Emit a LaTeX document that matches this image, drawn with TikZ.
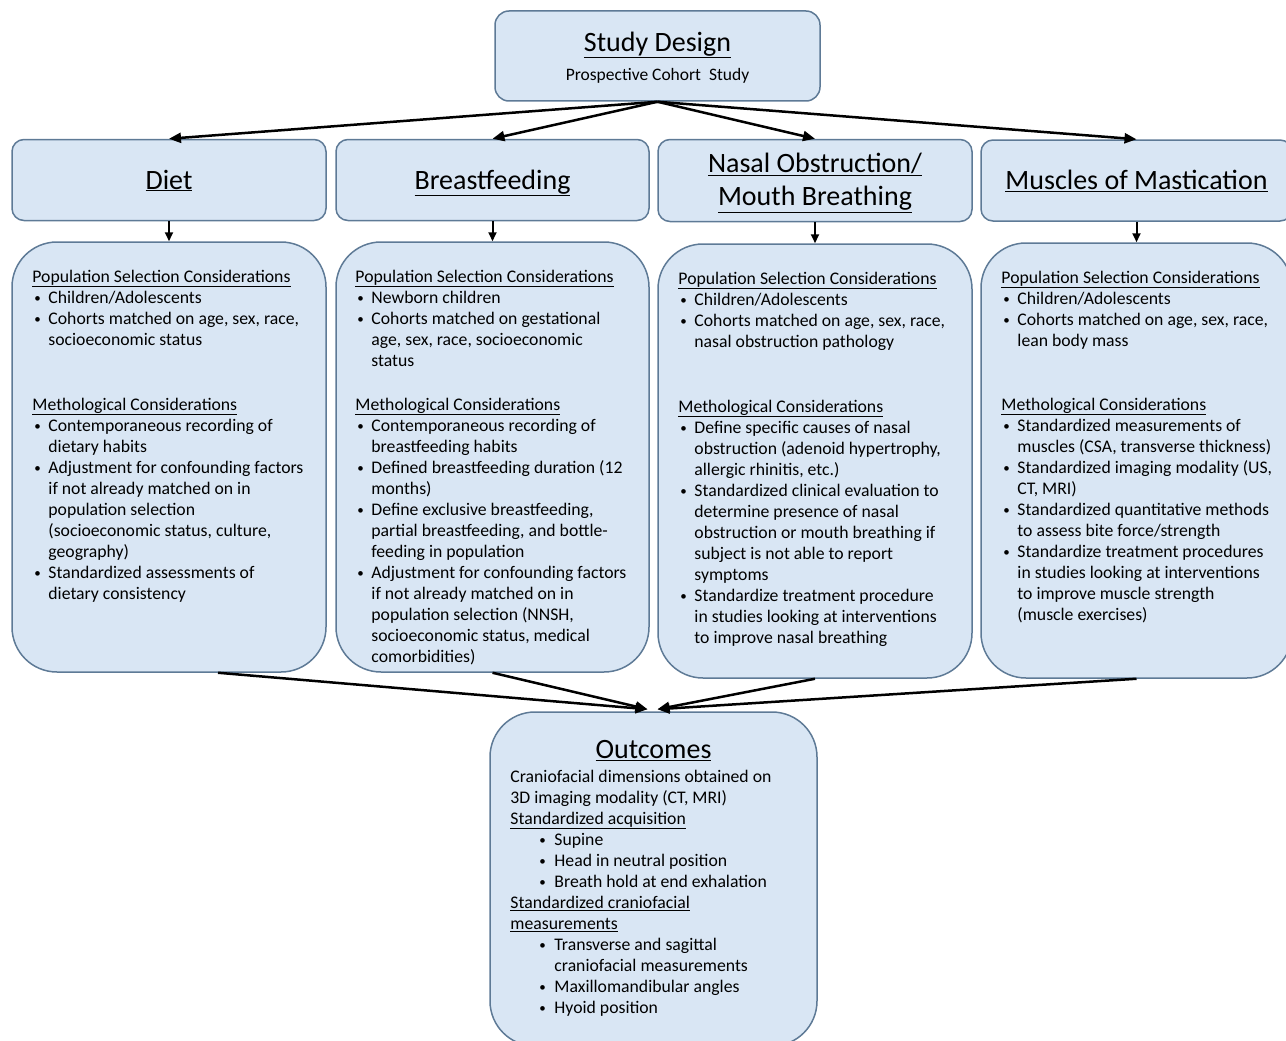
\documentclass[tikz,border=0pt]{standalone}
\usepackage{fontspec}
\setmainfont{Carlito}
\usetikzlibrary{arrows.meta}

\definecolor{boxfill}{RGB}{217,230,244}
\definecolor{boxline}{RGB}{94,122,150}

\newcommand{\dotmark}{\raisebox{1pt}{\fontsize{13}{13}\selectfont\textbullet}}
\newcommand{\sechead}[1]{\par\noindent\underline{#1}\par}
\newcommand{\bul}[1]{\par\hangindent=16pt\hangafter=1\noindent\hspace*{2pt}\makebox[14pt][l]{\dotmark}#1\par}
\newcommand{\subbul}[1]{\par\hangindent=44pt\hangafter=1\noindent\hspace*{29pt}\makebox[15pt][l]{\dotmark}#1\par}

\begin{document}
\begin{tikzpicture}[x=1pt,y=-1pt,
    box/.style={draw=boxline,fill=boxfill,line width=1.5pt,inner sep=0pt},
    topbox/.style={box,rounded corners=14pt},
    hdrbox/.style={box,rounded corners=12pt,minimum height=81pt,align=center,
      text height=24pt,text depth=6pt,font=\fontsize{28}{33}\selectfont},
    colbox/.style={box,rounded corners=45pt},
    coltext/.style={anchor=base west,inner sep=0pt,font=\fontsize{17.7}{21}\selectfont},
    arr/.style={-{Triangle[length=12pt,width=10pt]},line width=2.5pt},
    shortarr/.style={-{Triangle[length=9pt,width=8pt]},line width=2pt}]
  \useasboundingbox (0,0) rectangle (1286,1041);

  \node[topbox,minimum width=325pt,minimum height=90pt] (sd) at (657.5,56) {};
  \node[anchor=base,inner sep=0pt,font=\fontsize{28}{28}\selectfont] (sdhead)
    at ([yshift=-41pt]sd.north) {\underline{Study Design}};
  \node[anchor=base,inner sep=0pt,font=\fontsize{17.5}{17.5}\selectfont] (sdsub)
    at ([yshift=-70pt]sd.north) {Prospective Cohort\ \ Study};

  \node[hdrbox,minimum width=314pt] (diet) at (169,180) {\underline{Diet}};
  \node[hdrbox,minimum width=313pt] (bf) at (492.5,180) {\underline{Breastfeeding}};
  \node[hdrbox,minimum width=314pt,minimum height=82pt] (nasal) at (815,180.5) {};
  \node[anchor=base,inner sep=0pt,font=\fontsize{28}{28}\selectfont] (nasalhead)
    at ([yshift=-34pt]nasal.north) {\underline{Nasal Obstruction/}};
  \node[anchor=base,inner sep=0pt,font=\fontsize{28}{28}\selectfont] (nasalhead2)
    at ([yshift=-67pt]nasal.north) {\underline{Mouth Breathing}};
  \node[hdrbox,minimum width=311pt] (musc) at (1136.5,180.5) {\underline{Muscles of Mastication}};

  \node[colbox,minimum width=314pt,minimum height=430pt] (dietbox) at (169,457) {};
  \node[colbox,minimum width=313pt,minimum height=430pt] (bfbox) at (492.5,457) {};
  \node[colbox,minimum width=314pt,minimum height=434pt] (nasalbox) at (815,461) {};
  \node[colbox,minimum width=311pt,minimum height=435pt] (muscbox) at (1136.5,460.5) {};

  \node[colbox,minimum width=327pt,minimum height=334pt] (outc) at (653.5,879) {};

  \node[coltext] (diettext) at ([xshift=21pt,yshift=-41pt]dietbox.north west) {\parbox[t]{310pt}{%
    \sechead{Population Selection Considerations}
    \bul{Children/Adolescents}
    \bul{Cohorts matched on age, sex, race,\\socioeconomic status}
    \vspace{44pt}
    \sechead{Methological Considerations}
    \bul{Contemporaneous recording of\\dietary habits}
    \bul{Adjustment for confounding factors\\if not already matched on in\\population selection\\(socioeconomic status, culture,\\geography)}
    \bul{Standardized assessments of\\dietary consistency}}};

  \node[coltext] (bftext) at ([xshift=20pt,yshift=-41pt]bfbox.north west) {\parbox[t]{310pt}{%
    \sechead{Population Selection Considerations}
    \bul{Newborn children}
    \bul{Cohorts matched on gestational\\age, sex, race, socioeconomic\\status}
    \vspace{23pt}
    \sechead{Methological Considerations}
    \bul{Contemporaneous recording of\\breastfeeding habits}
    \bul{Defined breastfeeding duration (12\\months)}
    \bul{Define exclusive breastfeeding,\\partial breastfeeding, and bottle-\\feeding in population}
    \bul{Adjustment for confounding factors\\if not already matched on in\\population selection (NNSH,\\socioeconomic status, medical\\comorbidities)}}};

  \node[coltext] (nasaltext) at ([xshift=21pt,yshift=-41pt]nasalbox.north west) {\parbox[t]{310pt}{%
    \sechead{Population Selection Considerations}
    \bul{Children/Adolescents}
    \bul{Cohorts matched on age, sex, race,\\nasal obstruction pathology}
    \vspace{44pt}
    \sechead{Methological Considerations}
    \bul{Define specific causes of nasal\\obstruction (adenoid hypertrophy,\\allergic rhinitis, etc.)}
    \bul{Standardized clinical evaluation to\\determine presence of nasal\\obstruction or mouth breathing if\\subject is not able to report\\symptoms}
    \bul{Standardize treatment procedure\\in studies looking at interventions\\to improve nasal breathing}}};

  \node[coltext] (musctext) at ([xshift=21pt,yshift=-41pt]muscbox.north west) {\parbox[t]{310pt}{%
    \sechead{Population Selection Considerations}
    \bul{Children/Adolescents}
    \bul{Cohorts matched on age, sex, race,\\lean body mass}
    \vspace{43pt}
    \sechead{Methological Considerations}
    \bul{Standardized measurements of\\muscles (CSA, transverse thickness)}
    \bul{Standardized imaging modality (US,\\CT, MRI)}
    \bul{Standardized quantitative methods\\to assess bite force/strength}
    \bul{Standardize treatment procedures\\in studies looking at interventions\\to improve muscle strength\\(muscle exercises)}}};

  \node[anchor=base,inner sep=0pt,font=\fontsize{28}{28}\selectfont] (outhead)
    at ([yshift=-47pt]outc.north) {\underline{Outcomes}};
  \node[coltext] (outtext) at ([xshift=21pt,yshift=-71pt]outc.north west) {\parbox[t]{310pt}{%
    \noindent Craniofacial dimensions obtained on\\3D imaging modality (CT, MRI)
    \sechead{Standardized acquisition}
    \subbul{Supine}
    \subbul{Head in neutral position}
    \subbul{Breath hold at end exhalation}
    \par\noindent\underline{Standardized craniofacial}\\\underline{measurements}\par
    \subbul{Transverse and sagittal\\craniofacial measurements}
    \subbul{Maxillomandibular angles}
    \subbul{Hyoid position}}};

  \draw[arr] (sd.south) -- (diet.north);
  \draw[arr] (sd.south) -- (bf.north);
  \draw[arr] (sd.south) -- (nasal.north);
  \draw[arr] (sd.south) -- (musc.north);

  \draw[shortarr] (diet.south) -- (dietbox.north);
  \draw[shortarr] (bf.south) -- (bfbox.north);
  \draw[shortarr] (nasal.south) -- (nasalbox.north);
  \draw[shortarr] (musc.south) -- (muscbox.north);

  \draw[arr] ([xshift=49pt]dietbox.south) -- ([xshift=-6pt,yshift=2pt]outc.north);
  \draw[arr] (bfbox.south) -- ([xshift=-6pt,yshift=2pt]outc.north);
  \draw[arr] (nasalbox.south) -- ([xshift=4pt,yshift=2pt]outc.north);
  \draw[arr] (muscbox.south) -- ([xshift=4pt,yshift=2pt]outc.north);
\end{tikzpicture}
\end{document}
